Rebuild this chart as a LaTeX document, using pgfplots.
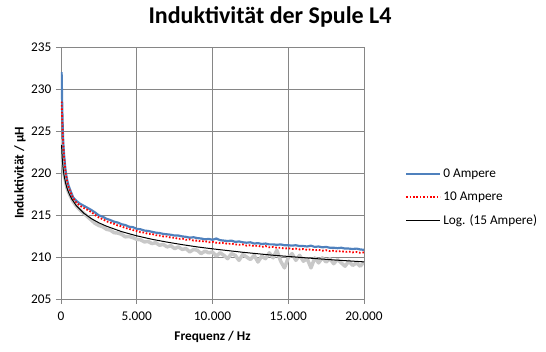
\documentclass[border=0pt]{standalone}
\usepackage{fontspec}
\setmainfont{Carlito}
\usepackage{pgfplots}
\pgfplotsset{compat=1.18}
\definecolor{exblue}{RGB}{79,129,189}
\definecolor{exred}{RGB}{255,0,0}
\definecolor{exgray}{RGB}{200,200,200}
\definecolor{gridgray}{RGB}{134,134,134}
\begin{document}
\begin{tikzpicture}
\useasboundingbox (0,0) rectangle (546pt,352pt);
\node[font=\fontsize{24}{28}\selectfont\bfseries] at (270pt,335pt) {Induktivität der Spule L4};
\begin{axis}[
  at={(61pt,53pt)}, anchor=south west,
  scale only axis, width=303pt, height=252pt,
  xmin=0, xmax=20000, ymin=205, ymax=235,
  xtick={0,5000,10000,15000,20000},
  ytick={205,210,215,220,225,230,235},
  xticklabels={0,5.000,10.000,15.000,20.000},
  grid=major,
  major grid style={gridgray, line width=0.9pt},
  axis line style={gridgray, line width=0.9pt},
  tick style={gridgray, line width=0.9pt},
  tick align=outside, major tick length=5pt,
  xtick pos=bottom, ytick pos=left,
  scaled x ticks=false,
  /pgf/number format/assume math mode=true,
  tick label style={font=\fontsize{13.3}{15}\selectfont, text=black},
  xticklabel style={yshift=-4pt},
  yticklabel style={xshift=-1pt},
  xlabel={Frequenz / Hz},
  ylabel={Induktivität  / µH},
  xlabel style={font=\fontsize{13.3}{15}\selectfont\bfseries, at={(axis description cs:0.5,-0.151)}, anchor=center},
  ylabel style={font=\fontsize{13.3}{15}\selectfont\bfseries, at={(axis description cs:-0.135,0.5)}, anchor=center, rotate=0},
  legend style={draw=none, fill=none, at={(1.135,0.402)}, anchor=west,
    font=\fontsize{13.3}{15}\selectfont, row sep=9pt, inner sep=0pt},
  legend cell align=left,
  legend image code/.code={\draw[#1] (0pt,0pt) -- (34pt,0pt);},
]
% 15 Ampere (measured, no legend entry)
\addplot[exgray, line width=3.5pt, forget plot, line join=round] coordinates {
(40,224.0) (80,222.3) (120,221.2) (160,220.5) (200,219.9) (300,219.0) (400,218.2) (500,217.7) (600,217.3) (800,216.6) (1000,216.1) (1250,215.6) (1500,215.2) (1750,214.8) (2000,214.4)
(2250,214.0) (2500,213.75) (2750,213.6) (3000,213.3) (3250,213.2) (3500,212.9) (3750,212.85) (4000,212.7) (4250,212.4) (4500,212.45) (4750,212.3) (5000,212.1)
(5250,212.05) (5500,211.8) (5750,211.85) (6000,211.6) (6250,211.7) (6500,211.4) (6750,211.5) (7000,211.2) (7250,211.35) (7500,211.0) (7750,211.2) (8000,210.9)
(8250,211.0) (8500,210.6) (8750,210.9) (9000,210.8) (9250,210.4) (9500,210.7) (9750,210.5) (10000,210.6) (10250,210.1) (10500,210.5) (10750,210.2) (11000,209.8)
(11250,210.4) (11500,210.2) (11750,209.6) (12000,210.3) (12250,210.0) (12500,209.7) (12750,210.2) (13000,209.4) (13250,210.1) (13500,209.8) (13750,210.5) (14000,209.9)
(14250,210.8) (14500,209.5) (14750,208.7) (15000,209.9) (15250,210.4) (15500,209.6) (15750,210.2) (16000,209.5) (16250,209.8) (16500,208.7) (16750,209.9) (17000,209.3)
(17250,209.9) (17500,209.4) (17750,209.8) (18000,209.2) (18250,209.7) (18500,209.3) (18750,208.9) (19000,209.5) (19250,209.0) (19500,209.3) (19750,208.9) (20000,209.4)
};
% 0 Ampere
\addplot[exblue, line width=2.2pt, line join=round] coordinates {
(40,232.0) (80,228.0) (120,225.0) (160,223.3) (200,222.2) (300,220.3) (400,219.2) (500,218.5) (600,218.0) (800,217.1) (1000,216.7) (1250,216.35) (1500,216.1) (1750,215.85)
(2000,215.6) (2250,215.3) (2500,214.95) (2750,214.8) (3000,214.55) (3250,214.4) (3500,214.2) (3750,214.1) (4000,213.9) (4250,213.8) (4500,213.6) (4750,213.55) (5000,213.35)
(5250,213.3) (5500,213.15) (5750,213.1) (6000,213.0) (6250,212.9) (6500,212.85) (6750,212.75) (7000,212.7) (7250,212.65) (7500,212.55) (7750,212.55) (8000,212.45)
(8250,212.4) (8500,212.3) (8750,212.35) (9000,212.25) (9250,212.2) (9500,212.1) (9750,212.15) (10000,212.05) (10250,212.2) (10500,212.0) (10750,211.95) (11000,211.9)
(11250,211.95) (11500,211.8) (11750,211.85) (12000,211.75) (12250,211.7) (12500,211.75) (12750,211.6) (13000,211.65) (13250,211.55) (13500,211.6) (13750,211.5) (14000,211.5)
(14250,211.45) (14500,211.5) (14750,211.4) (15000,211.4) (15250,211.35) (15500,211.4) (15750,211.3) (16000,211.3) (16250,211.25) (16500,211.35) (16750,211.2) (17000,211.25)
(17250,211.15) (17500,211.2) (17750,211.1) (18000,211.1) (18250,211.05) (18500,211.1) (18750,211.0) (19000,211.0) (19250,210.95) (19500,211.0) (19750,210.9) (20000,210.85)
};
\addlegendentry{0 Ampere}
% 10 Ampere
\addplot[exred, line width=1.8pt, dash pattern=on 1.6pt off 1.8pt] coordinates {
(40,228.5) (80,226.5) (120,224.5) (160,223.0) (200,222.0) (300,220.1) (400,219.0) (500,218.3) (600,217.8) (800,217.0) (1000,216.5) (1250,216.1) (1500,215.85) (1750,215.6)
(2000,215.35) (2250,215.0) (2500,214.7) (2750,214.5) (3000,214.25) (3250,214.1) (3500,213.95) (3750,213.75) (4000,213.65) (4250,213.45) (4500,213.35) (4750,213.2) (5000,213.1)
(5250,212.95) (5500,212.9) (5750,212.75) (6000,212.75) (6250,212.6) (6500,212.55) (6750,212.45) (7000,212.45) (7250,212.3) (7500,212.3) (7750,212.15) (8000,212.2)
(8250,212.05) (8500,212.1) (8750,211.95) (9000,211.95) (9250,211.85) (9500,211.9) (9750,211.75) (10000,211.8) (10250,211.7) (10500,211.65) (10750,211.7) (11000,211.55)
(11250,211.6) (11500,211.5) (11750,211.45) (12000,211.5) (12250,211.35) (12500,211.4) (12750,211.3) (13000,211.35) (13250,211.2) (13500,211.3) (13750,211.15) (14000,211.2)
(14250,211.1) (14500,211.1) (14750,211.0) (15000,211.05) (15250,210.95) (15500,211.0) (15750,210.9) (16000,210.95) (16250,210.85) (16500,210.9) (16750,210.8) (17000,210.85)
(17250,210.75) (17500,210.8) (17750,210.7) (18000,210.75) (18250,210.65) (18500,210.7) (18750,210.6) (19000,210.65) (19250,210.55) (19500,210.6) (19750,210.5) (20000,210.55)
};
\addlegendentry{10 Ampere}
% Log trendline (15 Ampere)
\addplot[black, line width=1pt] coordinates {
(40,223.34) (60,222.43) (80,221.78) (100,221.28) (150,220.38) (200,219.73) (300,218.82) (400,218.18) (500,217.68) (700,216.93) (1000,216.13) (1500,215.22)
(2000,214.57) (2500,214.07) (3000,213.67) (4000,213.02) (5000,212.52) (6000,212.11) (7000,211.77) (8000,211.47) (9000,211.20) (10000,210.97)
(12000,210.56) (14000,210.21) (16000,209.92) (18000,209.65) (20000,209.42)
};
\addlegendentry{Log. (15 Ampere)}
\end{axis}
\end{tikzpicture}
\end{document}
